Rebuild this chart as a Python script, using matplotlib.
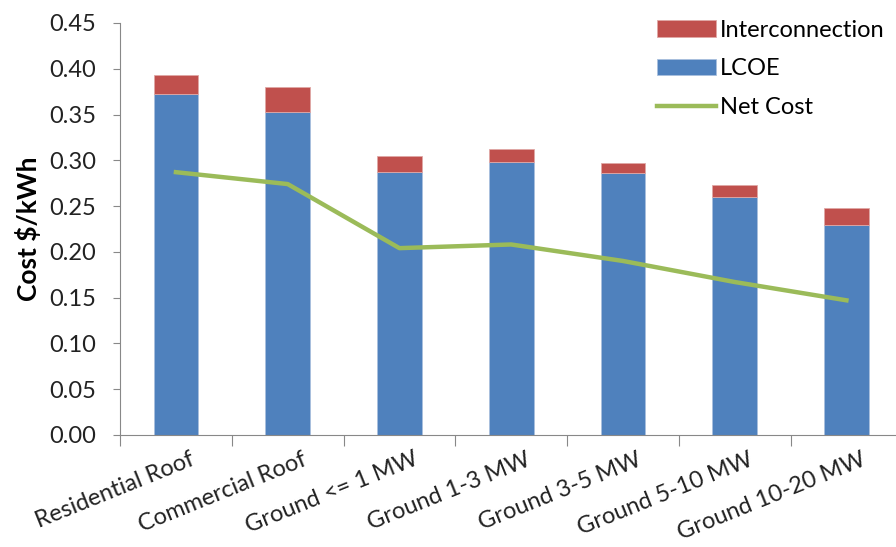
import matplotlib.pyplot as plt
import numpy as np
from matplotlib.transforms import ScaledTranslation

categories = ["Residential Roof", "Commercial Roof", "Ground <= 1 MW", "Ground 1-3 MW",
              "Ground 3-5 MW", "Ground 5-10 MW", "Ground 10-20 MW"]
lcoe = [0.372, 0.353, 0.287, 0.298, 0.286, 0.260, 0.229]
interconnection = [0.021, 0.027, 0.018, 0.014, 0.011, 0.013, 0.019]
net_cost = [0.287, 0.274, 0.204, 0.208, 0.190, 0.167, 0.147]

plt.rcParams['font.family'] = ['Lato', 'DejaVu Sans']

fig = plt.figure(figsize=(8.96, 5.47), dpi=100)
ax = fig.add_axes([0.134, 0.205, 0.873, 0.753])

x = np.arange(len(categories))
ax.bar(x, lcoe, width=0.4, color='#4F81BD', edgecolor='#a9c0de', linewidth=0.6, label='LCOE', zorder=2)
ax.bar(x, interconnection, width=0.4, bottom=lcoe, color='#C0504D', edgecolor='#e0a8a6',
       linewidth=0.6, label='Interconnection', zorder=2)
ax.plot(x, net_cost, color='#9BBB59', linewidth=3.2, label='Net Cost', zorder=3)

ax.set_xlim(-0.5, 6.5)
ax.set_ylim(0, 0.45)
ax.set_yticks(np.arange(0, 0.451, 0.05))
ax.set_yticklabels([f"{v:.2f}" for v in np.arange(0, 0.451, 0.05)], fontsize=17, color='#222222')
ax.set_ylabel("Cost $/kWh", fontsize=19, fontweight='bold', labelpad=6)

ax.set_xticks(np.arange(-0.5, 6.5, 1.0))
ax.set_xticklabels([])
ax.set_xticks(x, minor=True)
ax.set_xticklabels(categories, minor=True, rotation=22, ha='right', rotation_mode='anchor',
                   fontsize=17, color='#222222')
ax.tick_params(axis='x', which='minor', length=0, pad=10)
ax.tick_params(axis='x', which='major', length=8, color='#888888')
ax.tick_params(axis='y', length=5, color='#888888', pad=12)
shift = ScaledTranslation(0.14, 0, fig.dpi_scale_trans)
for lbl in ax.get_xticklabels(minor=True):
    lbl.set_transform(lbl.get_transform() + shift)

for s in ['top', 'right']:
    ax.spines[s].set_visible(False)
for s in ['left', 'bottom']:
    ax.spines[s].set_color('#888888')

handles, labels = ax.get_legend_handles_labels()
order = [labels.index('Interconnection'), labels.index('LCOE'), labels.index('Net Cost')]
ax.legend([handles[i] for i in order], [labels[i] for i in order], loc='upper right',
          bbox_to_anchor=(1.005, 1.06), frameon=False, fontsize=17, handlelength=2.5,
          handletextpad=0.2, labelspacing=0.75)

fig.savefig("out.png", dpi=100)
